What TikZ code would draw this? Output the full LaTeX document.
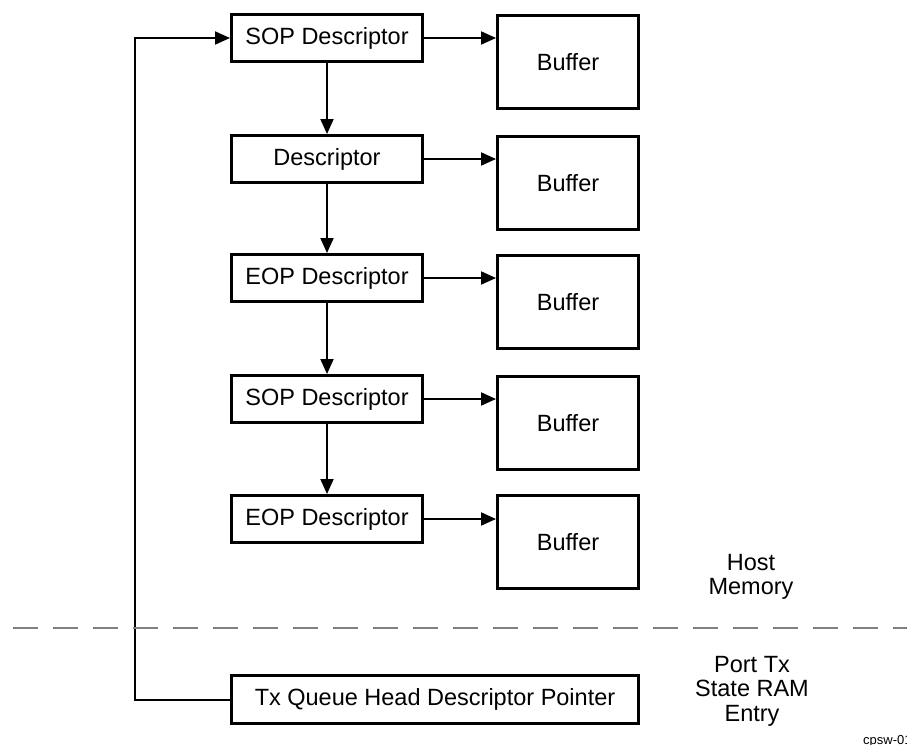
\documentclass[tikz,border=0pt]{standalone}
\usepackage{fontspec}
\setmainfont{Liberation Sans}
\usetikzlibrary{arrows.meta}
\begin{document}
\begin{tikzpicture}[x=1pt,y=-1pt,
  every node/.style={font=\fontsize{23.5}{24.5}\selectfont, inner sep=0pt},
  desc/.style={draw, line width=3pt, minimum width=191pt, minimum height=47pt},
  buf/.style={draw, line width=3pt, minimum width=141pt, minimum height=93pt},
  arr/.style={line width=2pt, -{Triangle[length=15pt,width=13pt]}},
  sep/.style={line width=2pt, draw=gray, dash pattern=on 25pt off 15pt}
]
\useasboundingbox (0,0) rectangle (907,744);

\node[desc] (d1) at (327,38) {SOP Descriptor};
\node[desc] (d2) at (327,159) {Descriptor};
\node[desc] (d3) at (327,278) {EOP Descriptor};
\node[desc] (d4) at (327,399) {SOP Descriptor};
\node[desc] (d5) at (327,519) {EOP Descriptor};

\node[buf] (b1) at (568,62) {Buffer};
\node[buf] (b2) at (568,183) {Buffer};
\node[buf] (b3) at (568,302) {Buffer};
\node[buf] (b4) at (568,423) {Buffer};
\node[buf] (b5) at (568,542) {Buffer};

\foreach \i in {1,...,5}{
  \draw[arr] (d\i.east) -- (d\i.east -| b\i.west);
}
\draw[arr] (d1.south) -- (d2.north);
\draw[arr] (d2.south) -- (d3.north);
\draw[arr] (d3.south) -- (d4.north);
\draw[arr] (d4.south) -- (d5.north);

\node[draw, line width=3pt, minimum width=407pt, minimum height=48pt] (tx) at (435,699.5)
  {Tx Queue Head Descriptor Pointer};

\coordinate (lx) at (135,0);
\draw[arr] (tx.west) -- (tx.west -| lx) |- (d1.west);

\coordinate (s1) at (13,628);
\coordinate (s2) at (907,628);
\draw[sep] (s1) -- (s2);

\node[align=center] (host) at (751,577) {Host\\Memory};
\node[align=center] (port) at (752,691) {Port Tx\\State RAM\\Entry};

\begin{scope}
\clip (0,0) rectangle (907,744);
\node[anchor=base west, font=\fontsize{13}{14}\selectfont] (tag) at (863,744) {cpsw-01};
\end{scope}
\end{tikzpicture}
\end{document}
